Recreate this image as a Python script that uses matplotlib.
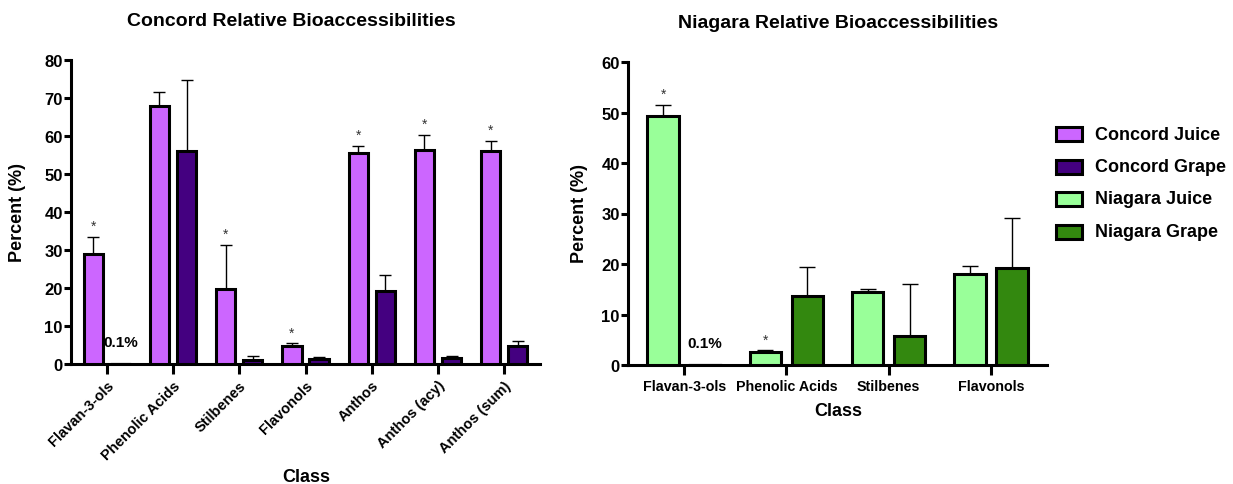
import numpy as np
import matplotlib
matplotlib.use("Agg")
import matplotlib.pyplot as plt
from matplotlib.patches import Rectangle

plt.rcParams['font.family'] = ['Liberation Sans', 'DejaVu Sans']

# ---- Data ----
concord_classes = ["Flavan-3-ols", "Phenolic Acids", "Stilbenes", "Flavonols",
                   "Anthos", "Anthos (acy)", "Anthos (sum)"]
concord_juice = [29.0, 67.8, 19.8, 4.7, 55.6, 56.4, 56.0]
concord_juice_err_top = [33.4, 71.6, 31.3, 5.5, 57.5, 60.3, 58.7]
concord_grape = [0.1, 56.0, 1.0, 1.3, 19.2, 1.7, 4.8]
concord_grape_err_top = [0.1, 74.8, 2.0, 1.9, 23.5, 2.2, 6.0]
concord_juice_sig = [True, False, True, True, True, True, True]

niagara_classes = ["Flavan-3-ols", "Phenolic Acids", "Stilbenes", "Flavonols"]
niagara_juice = [49.3, 2.5, 14.4, 18.0]
niagara_juice_err_top = [51.5, 2.9, 15.0, 19.6]
niagara_grape = [0.1, 13.6, 5.7, 19.2]
niagara_grape_err_top = [0.1, 19.4, 16.1, 29.1]
niagara_juice_sig = [True, True, False, False]

series_names = ["Concord Juice", "Concord Grape", "Niagara Juice", "Niagara Grape"]
colors = ["#CC66FF", "#440080", "#99FF99", "#33880F"]

W, H = 1233, 485
fig = plt.figure(figsize=(W / 100, H / 100), dpi=100)

def ax_rect(x0, x1, ytop, ybot):
    return [x0 / W, (H - ybot) / H, (x1 - x0) / W, (ybot - ytop) / H]

def fx(px):
    return px / W

def fy(py):
    return 1 - py / H

ax1 = fig.add_axes(ax_rect(71, 540, 61, 365))
ax2 = fig.add_axes(ax_rect(628, 1047, 63, 366))

EDGE = 2.2
SPINE = 2.2

def draw(ax, classes, juice, juice_top, grape, grape_top, sig, cj, cg,
         width, offset, capsize, ymax, ystep, rot, star_pad, label_y, xmargin):
    x = np.arange(len(classes))
    for vals, tops, col, off in [(juice, juice_top, cj, -offset), (grape, grape_top, cg, offset)]:
        vals = np.array(vals)
        tops = np.array(tops)
        show = vals > 0.5
        ax.bar(x[show] + off, vals[show], width=width, color=col,
               edgecolor="black", linewidth=EDGE, zorder=3)
        ax.errorbar(x[show] + off, vals[show],
                    yerr=[np.zeros(show.sum()), (tops - vals)[show]],
                    fmt="none", ecolor="black", elinewidth=1.0, capsize=capsize,
                    capthick=1.0, zorder=2)
    for i, s in enumerate(sig):
        if s:
            ax.text(x[i] - offset, juice_top[i] + star_pad, "*", ha="center",
                    va="bottom", fontsize=10, color="#333333")
    ax.text(x[0] + offset, label_y, "0.1%", ha="center", va="center",
            fontsize=11, fontweight="bold")
    ax.plot([x[0] + offset - width / 2, x[0] + offset + width / 2], [0.15, 0.15],
            color="#999999", lw=1, zorder=2)
    ax.set_xlim(-xmargin, len(classes) - 1 + xmargin)
    ax.set_ylim(0, ymax)
    ax.set_yticks(np.arange(0, ymax + 1, ystep))
    ax.set_xticks(x)
    if rot:
        ax.set_xticklabels(classes, rotation=45, ha="right", rotation_mode="anchor",
                           fontsize=10.5, fontweight="bold")
    else:
        ax.set_xticklabels(classes, fontsize=10.3, fontweight="bold")
    for lab in ax.get_yticklabels():
        lab.set_fontweight("bold")
        lab.set_fontsize(12)
    for sp in ["top", "right"]:
        ax.spines[sp].set_visible(False)
    for sp in ["left", "bottom"]:
        ax.spines[sp].set_linewidth(SPINE)
    ax.tick_params(axis="x", length=7, width=SPINE, pad=3)
    ax.tick_params(axis="y", length=5, width=SPINE, pad=1)

draw(ax1, concord_classes, concord_juice, concord_juice_err_top, concord_grape,
     concord_grape_err_top, concord_juice_sig, colors[0], colors[1],
     width=0.29, offset=0.205, capsize=4.3, ymax=80, ystep=10, rot=True,
     star_pad=1.0, label_y=5.8, xmargin=0.54)
draw(ax2, niagara_classes, niagara_juice, niagara_juice_err_top, niagara_grape,
     niagara_grape_err_top, niagara_juice_sig, colors[2], colors[3],
     width=0.31, offset=0.205, capsize=6, ymax=60, ystep=10, rot=False,
     star_pad=0.8, label_y=4.4, xmargin=0.55)

# axis labels & titles placed in figure pixel coordinates
fig.text(fx(18), fy(213), "Percent (%)", rotation=90, ha="center", va="center",
         fontsize=13, fontweight="bold")
fig.text(fx(579), fy(214), "Percent (%)", rotation=90, ha="center", va="center",
         fontsize=13, fontweight="bold")
fig.text(fx(306), fy(478), "Class", ha="center", va="center",
         fontsize=13, fontweight="bold")
fig.text(fx(838), fy(412), "Class", ha="center", va="center",
         fontsize=13, fontweight="bold")
fig.text(fx(291), fy(22), "Concord Relative Bioaccessibilities", ha="center",
         va="center", fontsize=14, fontweight="bold")
fig.text(fx(838), fy(24), "Niagara Relative Bioaccessibilities", ha="center",
         va="center", fontsize=14, fontweight="bold")

# legend
row_y = [135, 167.5, 200, 232.5]
for yy, c, n in zip(row_y, colors, series_names):
    fig.patches.append(Rectangle((fx(1056), fy(yy + 7)), fx(26), 14 / H,
                                 facecolor=c, edgecolor="black", linewidth=EDGE,
                                 transform=fig.transFigure, figure=fig))
    fig.text(fx(1095), fy(yy), n, ha="left", va="center", fontsize=13,
             fontweight="bold")

fig.savefig("out.png", dpi=100)
